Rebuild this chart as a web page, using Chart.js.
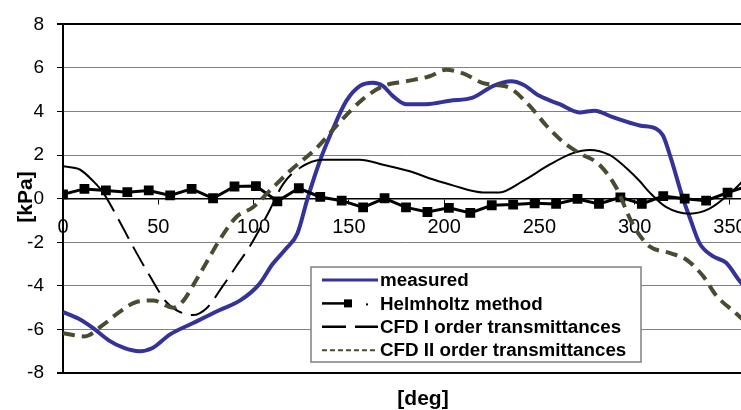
<!DOCTYPE html>
<html>
<head>
<meta charset="utf-8">
<script src="https://cdn.jsdelivr.net/npm/chart.js@4.4.0/dist/chart.umd.min.js"></script>
<style>
  html, body { margin: 0; padding: 0; background: #fff; overflow: hidden; }
  #wrap { width: 741px; height: 410px; overflow: hidden; }
</style>
</head>
<body>
<div id="wrap"><canvas id="myChart" width="790" height="410"></canvas></div>
<script>
// angle [deg] and pressure [kPa]
const measuredDeg = [0, 8, 16, 24, 32, 40, 47, 56, 68, 82, 93, 103, 110, 117, 123, 128.5, 134.7, 141.7, 148.7, 155.7, 162.6, 168, 173, 180, 190.7, 203, 215, 225.6, 235.3, 241.3, 250, 260.6, 271, 279, 288.6, 302.6, 311.3, 314.8, 319, 325, 328.8, 334, 341, 348, 355, 360];
const measuredKpa = [-5.2, -5.5, -5.95, -6.5, -6.85, -7.0, -6.85, -6.24, -5.72, -5.12, -4.67, -3.92, -3.0, -2.3, -1.6, 0.06, 1.71, 3.21, 4.49, 5.17, 5.32, 5.17, 4.72, 4.34, 4.34, 4.5, 4.64, 5.17, 5.39, 5.24, 4.72, 4.34, 3.96, 4.04, 3.74, 3.36, 3.21, 2.91, 1.86, 0.1, -0.84, -2.04, -2.64, -2.94, -3.77, -4.3];

const helmholtzDeg = [0, 11.25, 22.5, 33.75, 45, 56.25, 67.5, 78.75, 90, 101.25, 112.5, 123.75, 135, 146.25, 157.5, 168.75, 180, 191.25, 202.5, 213.75, 225, 236.25, 247.5, 258.75, 270, 281.25, 292.5, 303.75, 315, 326.25, 337.5, 348.75, 360];
const helmholtzKpa = [0.2, 0.45, 0.38, 0.3, 0.38, 0.15, 0.45, 0.02, 0.56, 0.58, -0.12, 0.48, 0.08, -0.09, -0.4, 0.02, -0.4, -0.61, -0.42, -0.65, -0.3, -0.27, -0.21, -0.24, -0.01, -0.24, 0.06, -0.24, 0.12, 0.0, -0.09, 0.28, 0.6];

const cfd1Deg = [0, 8.8, 15.8, 21, 28, 36.7, 45.5, 54.2, 61.2, 68.2, 75.2, 84, 91, 98, 108.4, 115.4, 124.2, 136.4, 155.7, 168, 182, 194, 205, 220.4, 229, 241.3, 255.3, 267.6, 276.3, 286.8, 295.6, 302.6, 307.8, 316.6, 328.8, 339.3, 351.5, 360];
const cfd1Kpa = [1.49, 1.34, 0.81, 0.29, -0.77, -2.19, -3.54, -4.74, -5.19, -5.34, -5.04, -3.99, -3.09, -2.19, -0.54, 0.66, 1.41, 1.79, 1.79, 1.56, 1.26, 0.89, 0.6, 0.29, 0.29, 0.81, 1.56, 2.09, 2.24, 2.01, 1.41, 0.81, 0.29, -0.39, -0.69, -0.46, 0.36, 1.1];

const cfd2Deg = [0, 11.4, 21, 29.7, 38.5, 47.2, 58, 63, 68.2, 75.2, 82.2, 91, 99.7, 108.4, 118.9, 133, 145.2, 157.4, 168, 180.2, 192.4, 201, 210, 220, 229, 234.4, 244.8, 253.6, 262.3, 271, 281.5, 290.3, 298, 302, 307.8, 318.3, 327, 335.8, 342.8, 353.3, 360];
const cfd2Kpa = [-6.17, -6.32, -5.79, -5.19, -4.74, -4.67, -5.0, -4.7, -3.99, -2.94, -1.89, -0.84, -0.39, 0.36, 1.26, 2.32, 3.51, 4.57, 5.17, 5.39, 5.62, 5.92, 5.75, 5.32, 5.2, 5.09, 4.27, 3.36, 2.61, 2.09, 1.56, 0.51, -1.0, -1.6, -2.19, -2.49, -2.79, -3.54, -4.44, -5.27, -5.8];

const seriesLabels = ["measured", "Helmholtz method", "CFD I order transmittances", "CFD II order transmittances"];
const yTicks = [-8, -6, -4, -2, 0, 2, 4, 6, 8];
const xTicks = [0, 50, 100, 150, 200, 250, 300, 350];

const toPoints = (xs, ys) => xs.map((x, i) => ({ x: x, y: ys[i] }));

const FONT = "'Liberation Sans', Arial, sans-serif";

// legend box and axis titles drawn like the spreadsheet does it
const extrasPlugin = {
  id: "extras",
  afterDraw(chart) {
    const ctx = chart.ctx;
    ctx.save();

    // axis titles
    ctx.fillStyle = "#000";
    ctx.font = "bold 21px " + FONT;
    ctx.textAlign = "center";
    ctx.textBaseline = "alphabetic";
    ctx.fillText("[deg]", 423, 405);
    ctx.translate(32, 197);
    ctx.rotate(-Math.PI / 2);
    ctx.fillText("[kPa]", 0, 0);
    ctx.setTransform(1, 0, 0, 1, 0, 0);

    // legend
    ctx.fillStyle = "#fff";
    ctx.fillRect(311, 267, 330, 95);
    ctx.strokeStyle = "#808080";
    ctx.lineWidth = 1.5;
    ctx.strokeRect(311, 267, 330, 95);

    ctx.font = "bold 18.8px " + FONT;
    ctx.textAlign = "left";
    ctx.textBaseline = "middle";
    chart.data.datasets.forEach((ds, i) => {
      const y = 280 + i * 23.4;
      ctx.strokeStyle = ds.borderColor;
      ctx.setLineDash([]);
      if (i === 0) {
        ctx.lineWidth = 3;
        ctx.beginPath(); ctx.moveTo(322, y); ctx.lineTo(378, y); ctx.stroke();
      } else if (i === 1) {
        ctx.lineWidth = 2.5;
        ctx.beginPath(); ctx.moveTo(322, y); ctx.lineTo(352, y); ctx.stroke();
        ctx.fillStyle = "#000";
        ctx.fillRect(344, y - 4, 8, 8);
        ctx.fillRect(366, y, 2, 2);
      } else if (i === 2) {
        ctx.lineWidth = 2.5;
        ctx.setLineDash([24, 9]);
        ctx.beginPath(); ctx.moveTo(322, y); ctx.lineTo(378, y); ctx.stroke();
      } else {
        ctx.lineWidth = 2;
        ctx.setLineDash([5, 3]);
        ctx.beginPath(); ctx.moveTo(322, y); ctx.lineTo(378, y); ctx.stroke();
      }
      ctx.fillStyle = "#000";
      ctx.fillText(ds.label, 380, y + 1);
    });
    ctx.restore();
  }
};

const config = {
  type: "line",
  data: {
    datasets: [
      {
        label: seriesLabels[0],
        data: toPoints(measuredDeg, measuredKpa),
        borderColor: "#333399",
        borderWidth: 4,
        pointRadius: 0,
        cubicInterpolationMode: "monotone",
        order: 4,
      },
      {
        label: seriesLabels[1],
        data: toPoints(helmholtzDeg, helmholtzKpa),
        borderColor: "#000000",
        borderWidth: 3,
        pointStyle: "rect",
        pointRadius: 4.8,
        pointBackgroundColor: "#000000",
        pointBorderColor: "#000000",
        tension: 0,
        order: 3,
      },
      {
        label: seriesLabels[2],
        data: toPoints(cfd1Deg, cfd1Kpa),
        borderColor: "#000000",
        borderWidth: 2,
        pointRadius: 0,
        cubicInterpolationMode: "monotone",
        segment: {
          // long dashes only show on the steep stretch
          borderDash: (c) => (c.p0.parsed.x >= 20 && c.p0.parsed.x < 118 ? [22, 9] : undefined),
        },
        order: 2,
      },
      {
        label: seriesLabels[3],
        data: toPoints(cfd2Deg, cfd2Kpa),
        borderColor: "#4b4b32",
        borderWidth: 4,
        borderDash: [12, 7],
        pointRadius: 0,
        cubicInterpolationMode: "monotone",
        order: 1,
      },
    ],
  },
  options: {
    responsive: false,
    animation: false,
    events: [],
    layout: { padding: { left: 0, top: 17, right: 41, bottom: 37 } },
    plugins: {
      legend: { display: false },
      tooltip: { enabled: false },
    },
    scales: {
      x: {
        type: "linear",
        position: { y: 0 },
        min: 0,
        max: 360,
        afterBuildTicks: (s) => { s.ticks = xTicks.map((v) => ({ value: v })); },
        ticks: {
          font: { family: FONT, size: 20 },
          color: "#000",
          padding: 12,
          maxRotation: 0,
        },
        grid: {
          drawOnChartArea: false,
          drawTicks: true,
          tickLength: 5,
          tickColor: "#000",
        },
        border: { color: "#000", width: 1.5 },
      },
      y: {
        min: -8,
        max: 8,
        afterBuildTicks: (s) => { s.ticks = yTicks.map((v) => ({ value: v })); },
        afterFit: (s) => { s.width = 63; },
        ticks: {
          font: { family: FONT, size: 19 },
          color: "#000",
          padding: 13,
        },
        grid: {
          color: (c) => (c.tick && [8, 0, -8].includes(c.tick.value) ? "#000" : "#808080"),
          lineWidth: (c) => (c.tick && (c.tick.value === 8 || c.tick.value === -8) ? 2 : 1),
          tickLength: 6,
          tickColor: "#000",
        },
        border: { color: "#000", width: 2 },
      },
    },
  },
  plugins: [extrasPlugin],
};

new Chart(document.getElementById("myChart"), config);
</script>
</body>
</html>
